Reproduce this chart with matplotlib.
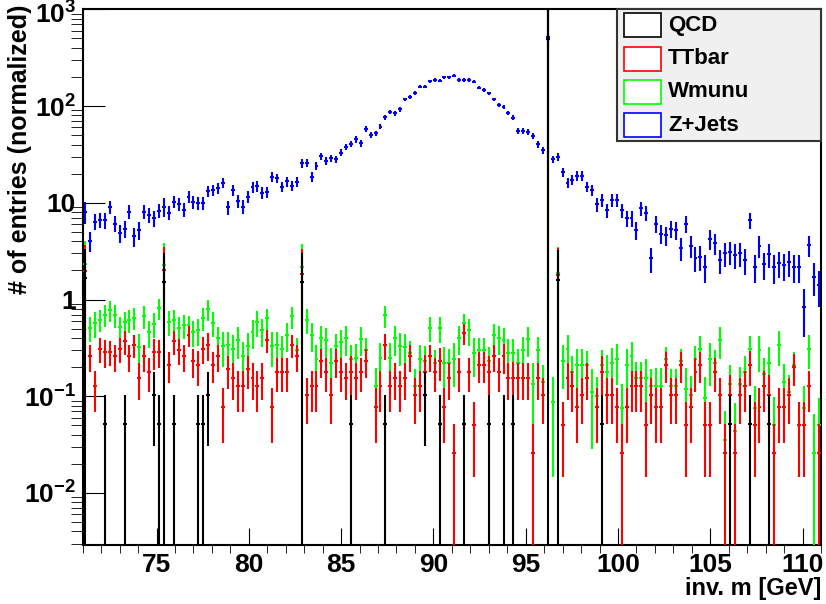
import numpy as np
import matplotlib
matplotlib.use('Agg')
import matplotlib.pyplot as plt
from matplotlib.patches import Rectangle
from matplotlib.ticker import FixedLocator, MultipleLocator, NullFormatter, LogLocator

plt.rcParams['font.family'] = ['Liberation Sans', 'DejaVu Sans']
plt.rcParams['font.weight'] = 'bold'
plt.rcParams['mathtext.fontset'] = 'custom'
plt.rcParams['mathtext.rm'] = 'Liberation Sans:bold'
plt.rcParams['mathtext.it'] = 'Liberation Sans:bold'
plt.rcParams['mathtext.bf'] = 'Liberation Sans:bold'

# binning of the invariant mass histograms
m_lo, m_hi, n_bins = 71.0, 111.0, 150

# stacked totals as drawn (each sample sits on top of the ones before it)
zjets = [8.1, 4.05, 6.4, 6.7, 6.6, 9.0, 6.1, 4.9, 5.4, 8.1,
         4.5, 5.2, 8.1, 7.5, 6.9, 8.3, 9.1, 7.9, 10.3, 9.7,
         8.5, 11.5, 10.2, 10.0, 10.0, 13.3, 13.5, 14.1, 16.1, 9.0,
         13.5, 10.4, 9.1, 11.5, 14.4, 14.9, 12.7, 13.0, 18.6, 17.9,
         14.7, 16.7, 15.0, 16.5, 25.5, 25.9, 18.6, 24.0, 30.4, 27.0,
         28.8, 28.1, 32.9, 37.9, 40.4, 45.2, 41.1, 57.8, 50.1, 52.2,
         61.1, 76.4, 87.3, 84.0, 92.3, 117, 124, 137, 158, 158,
         181, 186, 183, 198, 198, 206, 186, 186, 186, 178,
         155, 146, 135, 117, 102, 98, 85, 76, 55.6, 55.0,
         54.0, 49.0, 40.2, 35.1, 521, 28.1, 29.9, 20.9, 16.1, 17.2,
         19.0, 19.0, 14.7, 13.5, 9.6, 10.7, 8.4, 10.7, 10.7, 8.4,
         6.9, 6.9, 5.2, 8.8, 7.8, 2.66, 6.1, 4.8, 4.6, 5.4,
         5.2, 3.4, 6.1, 3.6, 2.7, 2.77, 2.18, 4.2, 3.8, 2.55,
         3.0, 3.1, 2.88, 3.0, 2.55, 6.6, 2.18, 3.6, 2.32, 2.95,
         2.18, 2.36, 2.27, 2.45, 2.18, 2.18, 0.84, 3.66, 1.72, 1.41]

wmunu = [2.32, 0.51, 0.57, 0.62, 0.70, 0.78, 0.69, 0.52, 0.59, 0.62,
         0.65, 0.32, 0.67, 0.46, 0.56, 0.82, 2.28, 0.59, 0.62, 0.51,
         0.54, 0.54, 0.46, 0.48, 0.65, 0.80, 0.57, 0.40, 0.33, 0.34,
         0.31, 0.38, 0.26, 0.33, 0.46, 0.59, 0.48, 0.64, 0.33, 0.34,
         0.31, 0.43, 0.67, 0.30, 2.18, 0.62, 0.43, 0.24, 0.40, 0.38,
         0.22, 0.33, 0.36, 0.40, 0.24, 0.25, 0.39, 0.30, 0.0, 0.127,
         0.25, 0.69, 0.25, 0.40, 0.33, 0.32, 0.28, 0.127, 0.24, 0.23,
         0.51, 0.22, 0.51, 0.22, 0.22, 0.24, 0.40, 0.57, 0.48, 0.28,
         0.30, 0.30, 0.23, 0.43, 0.40, 0.38, 0.28, 0.28, 0.22, 0.30,
         0.39, 0.135, 0.30, 0.14, 491.7, 0.087, 1.86, 0.23, 0.31, 0.18,
         0.21, 0.21, 0.21, 0.11, 0.10, 0.21, 0.18, 0.22, 0.24, 0.075,
         0.21, 0.26, 0.155, 0.155, 0.155, 0.127, 0.127, 0.127, 0.24, 0.127,
         0.127, 0.23, 0.12, 0.103, 0.24, 0.31, 0.095, 0.24, 0.22, 0.38,
         0.035, 0.135, 0.044, 0.135, 0.18, 0.31, 0.075, 0.30, 0.17, 0.22,
         0.051, 0.34, 0.14, 0.11, 0.21, 0.051, 0.075, 0.31, 0.026, 0.05]

ttbar = [1.98, 0.26, 0.127, 0.31, 0.29, 0.29, 0.26, 0.31, 0.37, 0.26,
         0.34, 0.155, 0.26, 0.18, 0.29, 0.29, 2.0, 0.21, 0.37, 0.30,
         0.26, 0.43, 0.23, 0.21, 0.31, 0.34, 0.21, 0.26, 0.078, 0.19,
         0.155, 0.127, 0.127, 0.19, 0.155, 0.127, 0.155, 0.38, 0.078, 0.18,
         0.18, 0.18, 0.34, 0.26, 1.83, 0.103, 0.127, 0.127, 0.23, 0.18,
         0.103, 0.23, 0.18, 0.155, 0.18, 0.155, 0.18, 0.23, 0.0, 0.078,
         0.127, 0.34, 0.127, 0.155, 0.127, 0.155, 0.26, 0.103, 0.127, 0.18,
         0.26, 0.18, 0.23, 0.078, 0.155, 0.026, 0.18, 0.45, 0.18, 0.051,
         0.21, 0.21, 0.18, 0.26, 0.18, 0.26, 0.155, 0.155, 0.155, 0.155,
         0.155, 0.026, 0.155, 0.103, 491.3, 0.0, 1.79, 0.051, 0.155, 0.127,
         0.078, 0.103, 0.155, 0.0, 0.078, 0.18, 0.103, 0.103, 0.078, 0.026,
         0.078, 0.127, 0.127, 0.127, 0.051, 0.103, 0.078, 0.078, 0.21, 0.103,
         0.103, 0.21, 0.051, 0.078, 0.18, 0.21, 0.051, 0.051, 0.18, 0.103,
         0.026, 0.103, 0.026, 0.103, 0.127, 0.21, 0.051, 0.078, 0.127, 0.103,
         0.026, 0.078, 0.078, 0.103, 0.20, 0.051, 0.051, 0.127, 0.0, 0.026]

# QCD: light events (weight ~0.052) per bin ...
qcd = [0, 0, 0, 0, 0.052, 0, 0, 0, 0.052, 0,
       0, 0, 0, 0, 0.104, 0.052, 0, 0, 0.052, 0,
       0, 0, 0, 0.052, 0.052, 0.104, 0, 0, 0, 0,
       0, 0, 0, 0, 0, 0, 0, 0, 0, 0,
       0, 0, 0, 0, 0, 0, 0, 0, 0, 0,
       0, 0, 0, 0, 0.052, 0, 0, 0, 0, 0,
       0, 0.052, 0, 0, 0, 0, 0, 0, 0, 0.104,
       0, 0, 0.052, 0, 0, 0, 0, 0.052, 0, 0,
       0, 0, 0.052, 0, 0, 0.052, 0, 0.052, 0, 0,
       0, 0, 0, 0, 0, 0, 0, 0, 0, 0,
       0, 0, 0, 0, 0, 0.052, 0, 0, 0, 0,
       0, 0, 0, 0, 0, 0, 0, 0, 0, 0,
       0, 0, 0, 0, 0, 0, 0, 0, 0, 0,
       0, 0.052, 0, 0, 0, 0.052, 0, 0, 0, 0.052,
       0, 0, 0, 0, 0, 0, 0, 0, 0, 0]
# ... plus a few single events with huge weights
qcd_heavy_bins = [0, 16, 44, 94, 96]
qcd_heavy_vals = [1.68, 1.52, 1.52, 491.0, 1.61]

# per-event weights, errors are sqrt(sum w^2) like ROOT does
w_qcd, w_tt, w_w, w_z = 0.052, 0.026, 0.06, 0.24

edges = np.linspace(m_lo, m_hi, n_bins + 1)
centers = 0.5 * (edges[1:] + edges[:-1])
bw = edges[1] - edges[0]

heavy = np.zeros(n_bins)
heavy[qcd_heavy_bins] = qcd_heavy_vals
q_tot = np.array(qcd) + heavy
tt_tot = np.array(ttbar)
w_tot = np.array(wmunu)
z_tot = np.array(zjets)

# own contribution of each sample and the error of each stacked layer
err2_q = w_qcd * np.array(qcd) + heavy ** 2
err2_t = err2_q + w_tt * np.clip(tt_tot - q_tot, 0, None)
err2_w = err2_t + w_w * np.clip(w_tot - np.maximum(tt_tot, q_tot), 0, None)
err2_z = err2_w + w_z * np.clip(z_tot - w_tot, 0, None)

fig = plt.figure(figsize=(8.26, 6.04), dpi=100)
ax = fig.add_axes([82.7 / 826, 1 - 545 / 604, (821 - 82.7) / 826, (545 - 9.3) / 604])

layers = [(z_tot, err2_z, '#0000ff', 'Z+Jets'),
          (w_tot, err2_w, '#00ff00', 'Wmunu'),
          (tt_tot, err2_t, '#ff0000', 'TTbar'),
          (q_tot, err2_q, 'black', 'QCD')]

for k, (vals, err2, col, name) in enumerate(layers):
    m = vals > 0
    v = vals[m]
    e = np.sqrt(err2[m])
    lo = np.minimum(e, v - 1e-6)
    ax.errorbar(centers[m], v, yerr=[lo, e], xerr=0.4 * bw, fmt='none',
                ecolor=col, elinewidth=1.5, capsize=0, zorder=2 + k)

ax.set_yscale('log')
ax.set_xlim(m_lo, m_hi)
ax.set_ylim(0.0029, 1000)

ax.xaxis.set_major_locator(MultipleLocator(5))
ax.xaxis.set_minor_locator(MultipleLocator(1))
ax.yaxis.set_major_locator(FixedLocator([0.01, 0.1, 1, 10, 100, 1000]))
ax.yaxis.set_minor_locator(LogLocator(base=10, subs=np.arange(2, 10)))
ax.yaxis.set_minor_formatter(NullFormatter())
# top label is placed by hand a little lower so it stays inside the figure
ax.set_yticklabels([r'$10^{-2}$', r'$10^{-1}$', '1', '10', r'$10^{2}$', ''])
ax.annotate(r'$10^{3}$', xy=(0, 1000), xycoords=('axes fraction', 'data'),
            xytext=(-5, -4), textcoords='offset points', ha='right', va='center',
            fontsize=19, annotation_clip=False)

ax.tick_params(direction='in', top=False, right=False, labelsize=19, width=0.8)
ax.tick_params(axis='x', which='major', length=12, pad=6)
ax.tick_params(axis='x', which='minor', length=6)
ax.tick_params(axis='y', which='major', length=16, pad=5)
ax.tick_params(axis='y', which='minor', length=8.5)
for sp in ax.spines.values():
    sp.set_linewidth(1.5)

fig.text(20 / 826, 1 - 4 / 604, '# of entries (normalized)', rotation=90,
         ha='center', va='top', fontsize=18, fontweight='bold')
fig.text(821 / 826, 1 - 589 / 604, 'inv. m [GeV]', ha='right', va='center',
         fontsize=17, fontweight='bold')


def fx(px):
    return px / 826


def fy(py):
    return 1 - py / 604


# legend box drawn by hand, ROOT style
fig.patches.append(Rectangle((fx(617), fy(141)), fx(821) - fx(617), fy(9) - fy(141),
                             transform=fig.transFigure, facecolor='#f0f0f0',
                             edgecolor='#333333', lw=1.5, zorder=10))
leg = [('QCD', 'black'), ('TTbar', '#ff0000'), ('Wmunu', '#00ff00'), ('Z+Jets', '#0000ff')]
for i, (name, col) in enumerate(leg):
    top = 13.3 + i * 33.3
    fig.patches.append(Rectangle((fx(624), fy(top + 24)), fx(661) - fx(624), fy(top) - fy(top + 24),
                                 transform=fig.transFigure, facecolor='white',
                                 edgecolor=col, lw=1.2, zorder=11))
    fig.text(fx(668), fy(top + 12), name, ha='left', va='center', fontsize=16,
             fontweight='bold', zorder=12)

fig.savefig('out.png', dpi=100)
